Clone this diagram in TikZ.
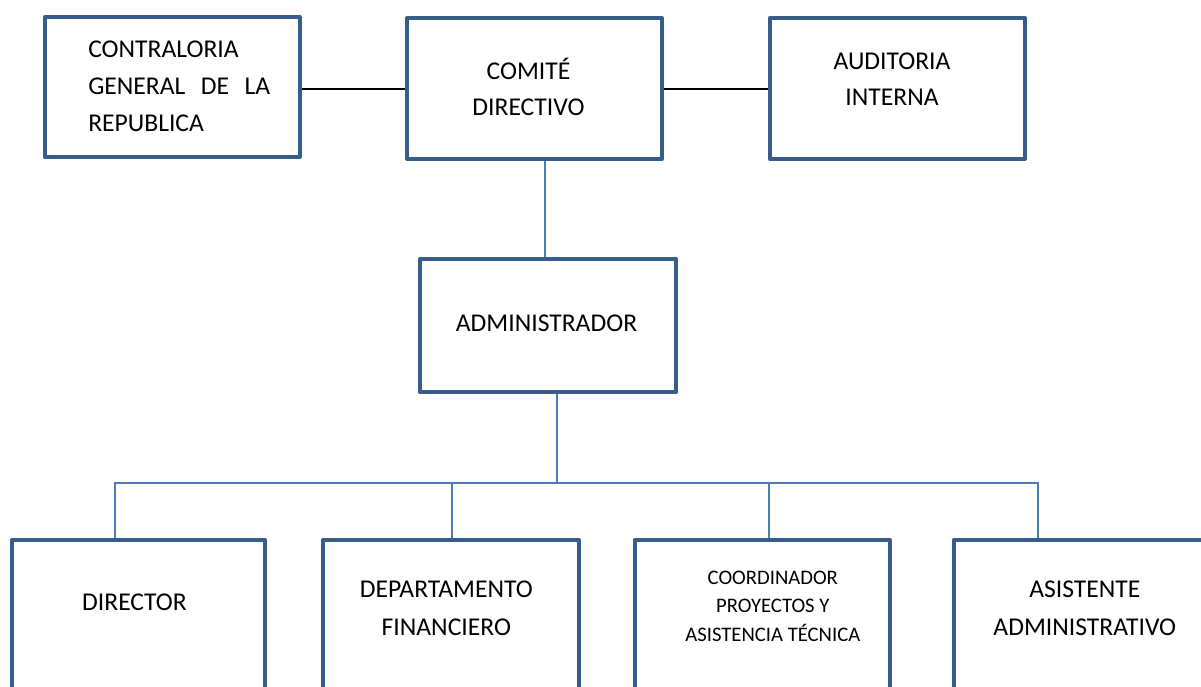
\documentclass[tikz,border=0pt]{standalone}
\usepackage{fontspec}
\setmainfont{Carlito}
\usetikzlibrary{backgrounds}
\definecolor{boxblue}{RGB}{56,93,138}
\definecolor{lineblue}{RGB}{74,126,187}
\newlength\pxu \setlength\pxu{0.75pt}
\newcommand\clines[2]{\vtop{\baselineskip=#1\pxu\lineskiplimit=-100pt\halign{\hfil##\hfil\cr#2\crcr}}}
\tikzset{
  orgbox/.style={draw=boxblue, line width=3pt, fill=white, inner sep=0pt, line join=round},
  topbox/.style={orgbox, minimum width=191.25pt, minimum height=105.75pt},
  lowbox/.style={orgbox, minimum width=191.25pt, minimum height=150pt},
  txt/.style={inner sep=0pt, anchor=base, font=\fontsize{19.2pt}{23pt}\selectfont},
  smalltxt/.style={txt, font=\fontsize{15.5pt}{19pt}\selectfont},
  conn/.style={draw=lineblue, line width=1.5pt},
  blk/.style={draw=black, line width=1pt}
}
\begin{document}
\begin{tikzpicture}[x=0.75pt, y=-0.75pt]
\clip (0,0) rectangle (1201,686);
% boxes
\node[orgbox, minimum width=191.25pt, minimum height=104.8pt] (con) at (172.2,86.9) {};
\node[topbox] (com) at (534.5,88.5) {};
\node[topbox] (aud) at (897.3,88.5) {};
\node[orgbox, minimum width=192pt, minimum height=99.75pt] (adm) at (548,325.5) {};
\node[lowbox, minimum width=189.75pt] (dir) at (138.5,640) {};
\node[lowbox, minimum width=192pt] (dep) at (451,640) {};
\node[lowbox] (coo) at (762.2,640) {};
\node[lowbox] (asi) at (1081.2,640) {};
% texts
\node[txt, anchor=base west] (conT) at (88,57) {\vtop{\baselineskip=37\pxu\lineskiplimit=-100pt
  \hbox{CONTRALORIA}\hbox to 182\pxu{GENERAL\hfill DE\hfill LA}\hbox{REPUBLICA}}};
\node[txt] (comT) at (528.5,79) {\clines{36.7}{COMITÉ\cr DIRECTIVO}};
\node[txt] (audT) at (892,69) {\clines{36.7}{AUDITORIA\cr INTERNA}};
\node[txt] (admT) at (546.5,331) {ADMINISTRADOR};
\node[txt] (dirT) at (134.5,610) {DIRECTOR};
\node[txt] (depT) at (446.3,597.7) {\clines{37.3}{DEPARTAMENTO\cr FINANCIERO}};
\node[smalltxt] (cooT) at (772.8,584) {\clines{28.8}{COORDINADOR\cr PROYECTOS Y\cr ASISTENCIA TÉCNICA}};
\node[txt] (asiT) at (1084.8,597.7) {\clines{37.3}{ASISTENTE\cr ADMINISTRATIVO}};
% connector coordinates
\coordinate (ytop) at (0,89);
\coordinate (xv) at (545,0);
\coordinate (k0) at (557,483);
\coordinate (k1) at (115,483);
\coordinate (k2) at (452,483);
\coordinate (k3) at (769,483);
\coordinate (k4) at (1038,483);
\begin{pgfonlayer}{background}
\draw[blk] (con.east |- ytop) -- (com.west |- ytop);
\draw[blk] (com.east |- ytop) -- (aud.west |- ytop);
\draw[conn] (com.south -| xv) -- (adm.north -| xv);
\draw[conn] (adm.south -| k0) -- (k0);
\draw[conn] (dir.north -| k1) -- (k1) -- (k4) -- (asi.north -| k4);
\draw[conn] (k2) -- (dep.north -| k2);
\draw[conn] (k3) -- (coo.north -| k3);
\end{pgfonlayer}
\end{tikzpicture}
\end{document}
